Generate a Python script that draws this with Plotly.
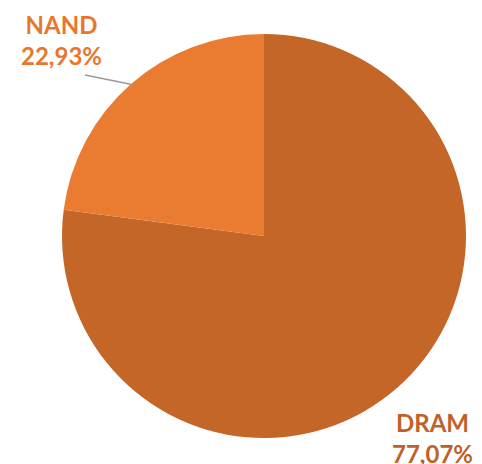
import math
import plotly.graph_objects as go

# Memory market share (drawn clockwise from 12 o'clock)
labels = ["DRAM", "NAND"]
shares = [77.07, 22.93]
slice_colors = ["#C46628", "#EA7C32"]
label_colors = ["#C0612A", "#E8772E"]

W, H = 482, 464
cx, cy, r = 264, 236, 202  # pie centre / radius in pixels (from top-left)

dom_x = [(cx - r) / W, (cx + r) / W]
dom_y = [(H - cy - r) / H, (H - cy + r) / H]

fig = go.Figure(go.Pie(
    labels=labels,
    values=shares,
    sort=False,
    direction="clockwise",
    rotation=0,
    textinfo="none",
    marker=dict(colors=slice_colors, line=dict(width=0)),
    domain=dict(x=dom_x, y=dom_y),
    showlegend=False,
))

def fmt(label, v):
    return f"<b>{label}<br>{v:.2f}%</b>".replace(".", ",")

# label anchor positions (pixel, top-left origin)
label_pos = {"NAND": (61, 40), "DRAM": (432, 438)}
for lab, val, col in zip(labels, shares, label_colors):
    px, py = label_pos[lab]
    fig.add_annotation(
        x=px / W, y=1 - py / H, xref="paper", yref="paper",
        text=fmt(lab, val), showarrow=False,
        font=dict(family="Lato", size=24, color=col),
        align="center", xanchor="center", yanchor="middle",
    )

# leader line from the NAND slice's mid-angle to its label
nand = shares[labels.index("NAND")]
mid = nand / sum(shares) * 360 / 2  # measured counterclockwise from 12 o'clock
ex = cx - r * math.sin(math.radians(mid))
ey = cy - r * math.cos(math.radians(mid))
fig.add_shape(
    type="line", xref="paper", yref="paper",
    x0=85 / W, y0=1 - 75 / H, x1=ex / W, y1=1 - ey / H,
    line=dict(color="#9A9A9A", width=1.5),
)

fig.update_layout(
    width=W, height=H,
    margin=dict(l=0, r=0, t=0, b=0),
    paper_bgcolor="white",
    plot_bgcolor="white",
)

fig.write_html("out.html")
